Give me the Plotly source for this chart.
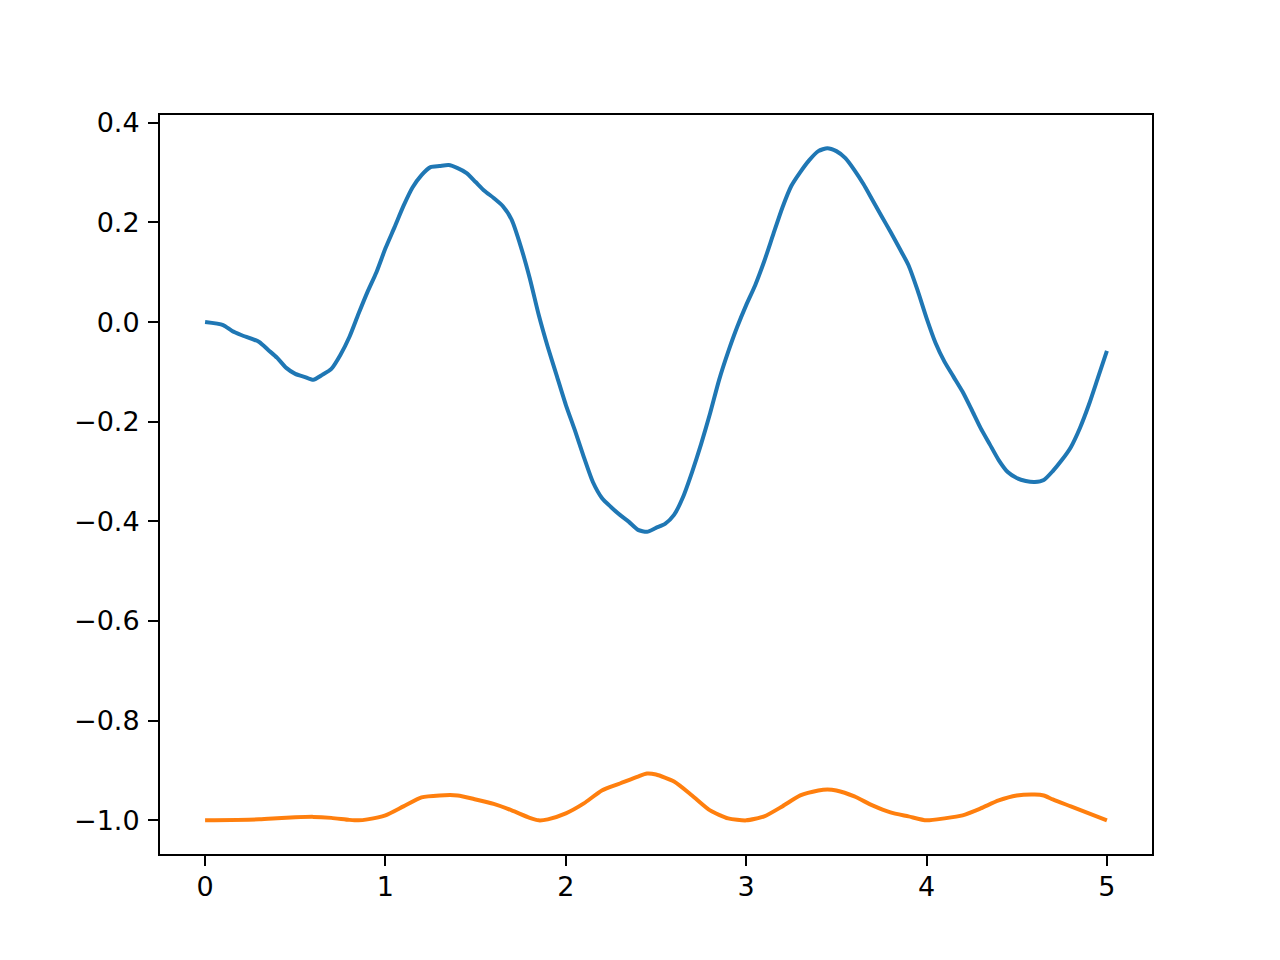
import plotly.graph_objects as go

x_blue = [0, 0.1, 0.15, 0.2, 0.3, 0.35, 0.4, 0.45, 0.5, 0.55, 0.6, 0.65, 0.7, 0.75, 0.8, 0.85, 0.9, 0.95,
          1.0, 1.05, 1.1, 1.15, 1.2, 1.25, 1.3, 1.35, 1.4, 1.45, 1.5, 1.55, 1.6, 1.65, 1.7, 1.75, 1.8, 1.85,
          1.9, 1.95, 2.0, 2.05, 2.1, 2.15, 2.2, 2.25, 2.3, 2.35, 2.4, 2.45, 2.5, 2.55, 2.6, 2.65, 2.7, 2.75,
          2.8, 2.85, 2.9, 2.95, 3.0, 3.05, 3.1, 3.15, 3.2, 3.25, 3.3, 3.35, 3.4, 3.45, 3.5, 3.55, 3.6, 3.65,
          3.7, 3.75, 3.8, 3.85, 3.9, 3.95, 4.0, 4.05, 4.1, 4.15, 4.2, 4.25, 4.3, 4.35, 4.4, 4.45, 4.5, 4.55,
          4.6, 4.65, 4.7, 4.75, 4.8, 4.85, 4.9, 4.95, 5.0]
y_blue = [0.0, -0.006, -0.018, -0.026, -0.04, -0.056, -0.072, -0.092, -0.104, -0.11, -0.116, -0.106, -0.094,
          -0.066, -0.03, 0.016, 0.06, 0.1, 0.148, 0.19, 0.233, 0.27, 0.295, 0.311, 0.313, 0.315, 0.309, 0.299,
          0.281, 0.263, 0.249, 0.233, 0.205, 0.152, 0.088, 0.014, -0.05, -0.108, -0.166, -0.217, -0.271,
          -0.321, -0.353, -0.371, -0.387, -0.401, -0.417, -0.421, -0.413, -0.405, -0.387, -0.351, -0.301,
          -0.245, -0.183, -0.116, -0.06, -0.01, 0.034, 0.074, 0.122, 0.176, 0.229, 0.273, 0.301, 0.325,
          0.343, 0.349, 0.343, 0.329, 0.305, 0.277, 0.245, 0.213, 0.181, 0.148, 0.114, 0.064, 0.008, -0.042,
          -0.08, -0.11, -0.14, -0.176, -0.213, -0.245, -0.277, -0.301, -0.313, -0.319, -0.321, -0.317,
          -0.299, -0.277, -0.251, -0.213, -0.166, -0.112, -0.058]

x_orange = [0, 0.3, 0.4, 0.5, 0.6, 0.7, 0.8, 0.85, 0.9, 1.0, 1.1, 1.2, 1.3, 1.4, 1.5, 1.6, 1.7, 1.8, 1.85,
            1.9, 2.0, 2.1, 2.2, 2.3, 2.4, 2.45, 2.5, 2.6, 2.7, 2.8, 2.9, 3.0, 3.1, 3.2, 3.3, 3.4, 3.45, 3.5,
            3.6, 3.7, 3.8, 3.9, 4.0, 4.1, 4.2, 4.3, 4.4, 4.5, 4.6, 4.65, 4.7, 4.8, 4.9, 5.0]
y_orange = [-1.0, -0.998, -0.996, -0.994, -0.993, -0.995, -0.999, -1.0, -0.998, -0.99, -0.972, -0.954,
            -0.95, -0.95, -0.958, -0.967, -0.98, -0.995, -1.0, -0.998, -0.986, -0.966, -0.94, -0.926,
            -0.912, -0.906, -0.908, -0.922, -0.95, -0.98, -0.996, -1.0, -0.992, -0.972, -0.95, -0.94,
            -0.938, -0.94, -0.952, -0.97, -0.984, -0.992, -1.0, -0.996, -0.99, -0.976, -0.96, -0.95,
            -0.948, -0.95, -0.958, -0.972, -0.986, -1.0]

x_ticks = [0, 1, 2, 3, 4, 5]
x_labels = ["0", "1", "2", "3", "4", "5"]
y_ticks = [-1.0, -0.8, -0.6, -0.4, -0.2, 0.0, 0.2, 0.4]
y_labels = ["\u22121.0", "\u22120.8", "\u22120.6", "\u22120.4", "\u22120.2", "0.0", "0.2", "0.4"]

fig = go.Figure()
fig.add_trace(go.Scatter(x=x_blue, y=y_blue, mode="lines", line=dict(color="#1f77b4", width=4, shape="spline", smoothing=0.6)))
fig.add_trace(go.Scatter(x=x_orange, y=y_orange, mode="lines", line=dict(color="#ff7f0e", width=4, shape="spline", smoothing=0.6)))

axis_common = dict(showgrid=False, zeroline=False, showline=True, linecolor="black", linewidth=2,
                   mirror=True, ticks="outside", ticklen=10, tickwidth=2, tickcolor="black",
                   tickfont=dict(family="DejaVu Sans", size=27, color="black"))
fig.update_xaxes(range=[-0.25, 5.25], tickvals=x_ticks, ticktext=x_labels, ticklabelstandoff=-2, **axis_common)
fig.update_yaxes(range=[-1.0675, 0.4155], tickvals=y_ticks, ticktext=y_labels, ticklabelstandoff=3, **axis_common)

fig.update_layout(width=1264, height=944, showlegend=False,
                  paper_bgcolor="white", plot_bgcolor="white",
                  margin=dict(l=152, r=120, t=107, b=98, autoexpand=False))

fig.write_html("out.html")
